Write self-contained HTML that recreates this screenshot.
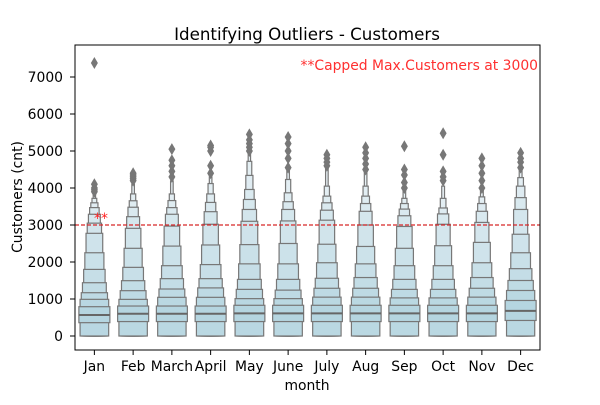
<!DOCTYPE html>
<html><head><meta charset="utf-8"><style>
body{margin:0;background:#fff}
svg{font-family:"DejaVu Sans","Liberation Sans",sans-serif}
</style></head><body>
<svg id="chart" width="600" height="400"></svg>
<script>
const months=["Jan","Feb","March","April","May","June","July","Aug","Sep","Oct","Nov","Dec"];
const medians=[567,600,600,600,610,610,610,610,610,610,610,680];
const q1=[360,390,390,390,390,390,390,390,390,390,390,420];
const upper=[
[792,991,1170,1440,1800,2250,2775,3050,3290,3470,3600,3720,3840],
[810,990,1225,1495,1855,2370,2910,3225,3480,3655,3840,4100],
[810,1045,1270,1550,1900,2430,2970,3290,3470,3660,3840,4190],
[810,1045,1300,1550,1930,2460,3020,3360,3610,3840,4120,4300],
[830,1010,1260,1530,1950,2470,3100,3420,3690,3960,4340,4720,4990],
[830,1010,1240,1530,1950,2500,3110,3420,3630,3870,4230,4460],
[830,1050,1290,1560,1980,2480,3130,3400,3600,3780,4050,4570],
[830,1050,1290,1580,1950,2420,3000,3370,3580,3780,4050,4480],
[830,1030,1260,1530,1900,2370,2960,3250,3430,3580,3720,3970],
[830,1030,1260,1530,1900,2440,3020,3300,3460,3720,4050],
[830,1050,1290,1580,1980,2530,3070,3370,3580,3760,3970],
[960,1230,1500,1820,2250,2750,3420,3740,4050,4280,4500]];
const lowerTail=[0,0,0,0,0,0,0,0,0,0,0,0,0];
const outliers=[
[3900,3950,4000,4100,7380],[4200,4250,4300,4350,4400],[4300,4450,4600,4750,5050],[4400,4600,5000,5100,5150],
[5000,5100,5200,5300,5450],[4550,4800,5000,5200,5380],[4600,4700,4800,4900],[4500,4650,4800,4950,5100],
[4000,4150,4350,4500,5130],[4200,4300,4450,4900,5480],[4000,4200,4400,4600,4800],[4550,4700,4800,4950]];
const yTicks=[0,1000,2000,3000,4000,5000,6000,7000];
const capValue=3000;

const L=75,R=540,T=45,B=350;
const y=v=>336-v*0.037;
const bw=(R-L)/months.length;
const xc=i=>L+(i+0.5)*bw;
const svg=document.getElementById('chart');
const NS="http://www.w3.org/2000/svg";
function mk(tag,attrs,parent){const e=document.createElementNS(NS,tag);for(const k in attrs)e.setAttribute(k,attrs[k]);(parent||svg).appendChild(e);return e;}
function lerpColor(t){const a=[181,213,224],b=[232,241,245];return `rgb(${a.map((c,i)=>Math.round(c+(b[i]-c)*t)).join(',')})`;}

months.forEach((m,i)=>{
  const g=mk('g',{});
  
  
  const ups=upper[i];const k=ups.length;
  for(let j=k-1;j>=0;j--){
    const w=31*(k-j)/k;
    const lo=j===0?q1[i]:lowerTail[Math.min(j-1,lowerTail.length-1)];
    const r=mk('rect',{x:xc(i)-w/2,y:y(ups[j]),width:w,height:y(lo)-y(ups[j]),fill:lerpColor(j/(k-1)),stroke:'#777','stroke-width':1.2},g);
    
    
  }
  const md=mk('line',{x1:xc(i)-15.5,x2:xc(i)+15.5,y1:y(medians[i]),y2:y(medians[i]),stroke:'#666','stroke-width':2},g);
  
  
  outliers[i].forEach(v=>{
    const p=mk('path',{d:`M${xc(i)},${y(v)-6}L${xc(i)+3.5},${y(v)}L${xc(i)},${y(v)+6}L${xc(i)-3.5},${y(v)}Z`,fill:'#777'},g);
    
    
  });
  const tk=mk('line',{x1:xc(i),x2:xc(i),y1:B,y2:B+5,stroke:'#000'});
  
  
  const t=mk('text',{x:xc(i),y:B+21,'font-size':13.9,'text-anchor':'middle'});
  t.textContent=m;
  
  
});
yTicks.forEach(v=>{
  const tk=mk('line',{x1:L-5,x2:L,y1:y(v),y2:y(v),stroke:'#000'});
  
  
  const t=mk('text',{x:L-12,y:y(v)+5,'font-size':13.9,'text-anchor':'end'});
  t.textContent=v;
  
  
});
const cap=mk('line',{x1:L,x2:R,y1:y(capValue),y2:y(capValue),stroke:'#d62728','stroke-width':1.2,'stroke-dasharray':'4,2'});


const frame=mk('rect',{x:L,y:T,width:R-L,height:B-T,fill:'none',stroke:'#000','stroke-width':1});


const st=mk('text',{x:94,y:223,'font-size':13.9,fill:'#ff2020'});st.textContent='**';


const note=mk('text',{x:538,y:70,'font-size':13.9,fill:'#ff3030','text-anchor':'end'});note.textContent='**Capped Max.Customers at 3000';


const ti=mk('text',{x:307,y:40,'font-size':16.7,'text-anchor':'middle'});ti.textContent='Identifying Outliers - Customers';


const xl=mk('text',{x:307,y:390,'font-size':13.9,'text-anchor':'middle'});xl.textContent='month';


const yl=mk('text',{x:0,y:0,'font-size':13.9,'text-anchor':'middle',transform:'translate(22,197) rotate(-90)'});yl.textContent='Customers (cnt)';


</script>
</body></html>
